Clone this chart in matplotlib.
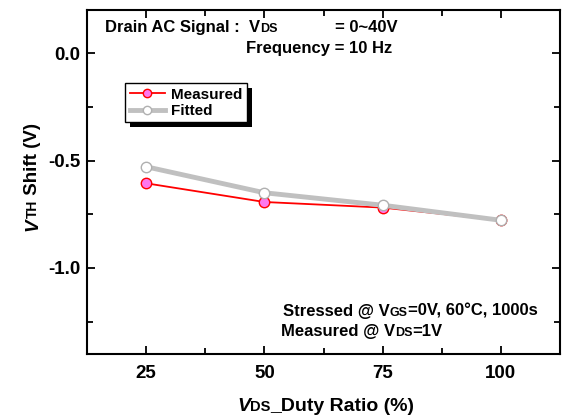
import matplotlib
matplotlib.use("Agg")
import matplotlib.pyplot as plt
from matplotlib.patches import Rectangle
from matplotlib.ticker import MultipleLocator

plt.rcParams['font.family'] = ['Liberation Sans', 'DejaVu Sans']
plt.rcParams['font.weight'] = 'bold'

# duty ratio (%) vs threshold voltage shift (V)
duty = [25, 50, 75, 100]
measured = [-0.606, -0.693, -0.719, -0.778]
fitted = [-0.529, -0.650, -0.708, -0.778]

W, H = 563, 417
fig = plt.figure(figsize=(W / 100, H / 100), dpi=100)
ax = fig.add_axes([87 / W, 1 - 354 / H, (560 - 87) / W, (354 - 10) / H])

ax.plot(duty, measured, '-o', color='red', lw=1.3, ms=7.5,
        mfc='#ff77ee', mec='red', mew=1.0, label='Measured', zorder=3)
ax.plot(duty, fitted, '-o', color='#c0c0c0', lw=3.5, ms=7.5,
        mfc='white', mec='#b0b0b0', mew=1.0, label='Fitted', zorder=4)

ax.set_xlim(12.5, 112.5)
ax.set_ylim(-1.4, 0.2)
ax.xaxis.set_major_locator(MultipleLocator(25))
ax.xaxis.set_minor_locator(MultipleLocator(12.5))
ax.yaxis.set_major_locator(MultipleLocator(0.5))
ax.yaxis.set_minor_locator(MultipleLocator(0.25))
ax.yaxis.set_major_formatter(matplotlib.ticker.FormatStrFormatter('%.1f'))
ax.tick_params(which='both', direction='in', top=True, right=True, width=1.3)
ax.tick_params(which='major', length=6, labelsize=13.5)
ax.tick_params(axis='x', which='major', pad=8)
ax.tick_params(axis='y', which='major', pad=5)
ax.tick_params(which='minor', length=4)
for lab in ax.get_xticklabels() + ax.get_yticklabels():
    lab.set_fontweight('bold')
for s in ax.spines.values():
    s.set_linewidth(1.5)

leg = ax.legend(loc='upper left', bbox_to_anchor=(125 / W, 1 - 83 / H),
                bbox_transform=fig.transFigure, fancybox=False,
                edgecolor='black', framealpha=1, markerscale=0.8,
                prop={'weight': 'bold', 'size': 11}, handlelength=2.3,
                handletextpad=0.4, borderpad=0.3, labelspacing=0.15,
                borderaxespad=0)
leg.get_frame().set_linewidth(1.0)
leg.set_zorder(10)

fig.canvas.draw()
renderer = fig.canvas.get_renderer()
bb = leg.get_window_extent(renderer)
ax.add_patch(Rectangle((bb.x0 + 5, bb.y0 - 5), bb.width, bb.height,
                       transform=None, facecolor='black', edgecolor='none',
                       zorder=9, clip_on=False))


def runs(x, y, parts, rotation=0):
    """Draw text pieces one after another starting at pixel (x, y) from top-left."""
    px, py = x, H - y
    for txt, size, style in parts:
        t = fig.text(px / W, py / H, txt, fontsize=size, fontweight='bold',
                     fontstyle=style, ha='left', va='baseline',
                     rotation=rotation, rotation_mode='anchor')
        e = t.get_window_extent(renderer)
        if rotation == 0:
            px += e.width
        else:
            py += e.height


runs(105, 32, [('Drain AC Signal :  V', 12, 'normal'), ('DS', 9, 'normal')])
runs(335, 32, [('= 0~40V', 12, 'normal')])
runs(246, 53, [('Frequency = 10 Hz', 12, 'normal')])
runs(283, 316, [('Stressed @ V', 12, 'normal'), ('GS', 9, 'normal'),
                ('=0V, 60°C, 1000s', 12, 'normal')])
runs(281, 336, [('Measured @ V', 12, 'normal'), ('DS', 9, 'normal'),
                ('=1V', 12, 'normal')])
runs(237, 411, [('V', 14, 'italic'), ('DS', 10.5, 'normal'),
                ('_Duty Ratio (%)', 14, 'normal')])
runs(37, 231, [('V', 13.5, 'italic'), ('TH', 10, 'normal'),
               (' Shift (V)', 13.5, 'normal')], rotation=90)

fig.savefig('out.png', dpi=100)
